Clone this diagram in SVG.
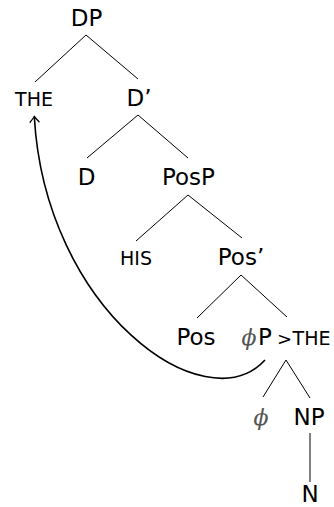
<svg xmlns="http://www.w3.org/2000/svg" width="334" height="507" viewBox="0 0 334 507">
<style>
.t{font-family:"DejaVu Sans",sans-serif;font-size:23px;fill:#000;text-anchor:middle}
.sc{font-family:"DejaVu Sans",sans-serif;font-size:19px;fill:#000;text-anchor:middle}
.ph{font-family:"DejaVu Serif","Liberation Serif",serif;font-style:italic;font-size:22px;fill:#555;text-anchor:middle}
.e{stroke:#000;stroke-width:1;fill:none}
.mv{stroke:#000;stroke-width:1.6;fill:none}
</style>
<defs>
<marker id="ah" markerUnits="userSpaceOnUse" markerWidth="14" markerHeight="14" viewBox="-8 -7 10 14" refX="0" refY="0" orient="auto">
<path d="M-5.5,-4.5 Q-1.5,-1 0,0 Q-1.5,1 -5.5,4.5" stroke="#000" stroke-width="1.3" fill="none" stroke-linecap="round"/>
</marker>
</defs>
<g id="edges">
<line class="e" x1="86" y1="35" x2="35" y2="82"/>
<line class="e" x1="86" y1="35" x2="138" y2="79"/>
<line class="e" x1="138" y1="115" x2="87" y2="158"/>
<line class="e" x1="138" y1="115" x2="188" y2="158"/>
<line class="e" x1="188" y1="195" x2="136" y2="241"/>
<line class="e" x1="188" y1="195" x2="242" y2="238"/>
<line class="e" x1="241" y1="275" x2="197" y2="318"/>
<line class="e" x1="241" y1="275" x2="287" y2="317"/>
<line class="e" x1="286" y1="360" x2="263" y2="397"/>
<line class="e" x1="286" y1="360" x2="310" y2="398"/>
<line class="e" x1="310" y1="433" x2="310" y2="482"/>
<path id="movement" class="mv" d="M265,360 C205,425 45,310 34.3,116.5" marker-end="url(#ah)"/>
</g>
<g id="n-DP"><text class="t" x="86.5" y="26">DP</text></g>
<g id="n-THE"><text class="sc" x="34" y="106">THE</text></g>
<g id="n-Dbar"><text class="t" x="139" y="106">D’</text></g>
<g id="n-D"><text class="t" x="86.5" y="185">D</text></g>
<g id="n-PosP"><text class="t" x="188.5" y="185">PosP</text></g>
<g id="n-HIS"><text class="sc" x="136" y="265">HIS</text></g>
<g id="n-Posbar"><text class="t" x="241" y="265">Pos’</text></g>
<g id="n-Pos"><text class="t" x="196" y="345">Pos</text></g>
<g id="n-phiP"><text class="ph" x="249" y="345">ϕ</text><text class="t" x="265" y="345">P</text><text class="t" x="284.5" y="345" style="font-size:18px">&gt;</text><text class="sc" x="311.5" y="345">THE</text></g>
<g id="n-phi"><text class="ph" x="261" y="425">ϕ</text></g>
<g id="n-NP"><text class="t" x="309" y="425">NP</text></g>
<g id="n-N"><text class="t" x="310" y="502">N</text></g>
</svg>
